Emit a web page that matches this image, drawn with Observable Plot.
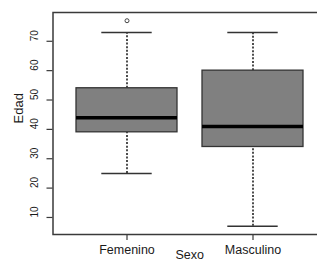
<!DOCTYPE html>
<html>
<head>
<meta charset="utf-8">
<script src="https://cdn.jsdelivr.net/npm/d3@7"></script>
<script src="https://cdn.jsdelivr.net/npm/@observablehq/plot@0.6"></script>
<style>
  html, body { margin: 0; padding: 0; background: #fff; overflow: hidden; }
  #chart svg { display: block; overflow: hidden; }
</style>
</head>
<body>
<div id="chart"></div>
<script>
const sexo = ["Femenino", "Masculino"];
const minimo = [25, 7];
const q1 = [39, 34];
const mediana = [44, 41];
const q3 = [54, 60];
const maximo = [73, 73];
const atipicoSexo = ["Femenino"];
const atipicoEdad = [77];
const yTicks = [10, 20, 30, 40, 50, 60, 70];

const data = sexo.map((s, i) => ({sexo: s, min: minimo[i], q1: q1[i], med: mediana[i], q3: q3[i], max: maximo[i]}));
const outliers = atipicoSexo.map((s, i) => ({sexo: s, edad: atipicoEdad[i]}));

const font = "Liberation Sans, Arial, sans-serif";
const ink = "#3a3a3a";
const txt = "#1a1a1a";

const chart = Plot.plot({
  width: 317,
  height: 266,
  marginLeft: 52.5,
  marginRight: -9,
  marginTop: 12,
  marginBottom: 32,
  style: {fontFamily: font, background: "#fff", color: txt},
  x: {type: "band", domain: sexo, paddingInner: 0.2, paddingOuter: 0.18, label: null, axis: null},
  y: {domain: [4.2, 79.8], label: null, axis: null},
  marks: [
    Plot.ruleX(data, {x: "sexo", y1: "q3", y2: "max", stroke: "#222", strokeWidth: 1.6, strokeDasharray: "2,1.6"}),
    Plot.ruleX(data, {x: "sexo", y1: "min", y2: "q1", stroke: "#222", strokeWidth: 1.6, strokeDasharray: "2,1.6"}),
    Plot.tickY(data, {x: "sexo", y: "max", insetLeft: 25.3, insetRight: 25.3, stroke: "#333", strokeWidth: 1.5}),
    Plot.tickY(data, {x: "sexo", y: "min", insetLeft: 25.3, insetRight: 25.3, stroke: "#333", strokeWidth: 1.5}),
    Plot.barY(data, {x: "sexo", y1: "q1", y2: "q3", fill: "#808080", stroke: "#333", strokeWidth: 1.3}),
    Plot.tickY(data, {x: "sexo", y: "med", stroke: "#000", strokeWidth: 3.5}),
    Plot.dot(outliers, {x: "sexo", y: "edad", r: 2, stroke: "#444", strokeWidth: 1, fill: "none"}),
    Plot.axisY(yTicks, {tickSize: 6, tickFormat: () => "", label: null, stroke: ink, strokeWidth: 1.2}),
    Plot.text(yTicks, {y: d => d, text: d => String(d), frameAnchor: "left", dx: -18, rotate: -90, fontSize: 10, fill: txt}),
    Plot.axisX(sexo, {tickSize: 6, tickPadding: 5, fontSize: 12.5, label: null, stroke: ink, strokeWidth: 1.2, fill: txt}),
    Plot.text(["Sexo"], {frameAnchor: "bottom", dy: 24.5, fontSize: 12.5, fill: txt}),
    Plot.text(["Edad"], {frameAnchor: "left", dx: -34, rotate: -90, fontSize: 13, fill: txt}),
    Plot.frame({stroke: ink, strokeWidth: 1.5})
  ]
});
document.getElementById("chart").append(chart);
</script>
</body>
</html>
